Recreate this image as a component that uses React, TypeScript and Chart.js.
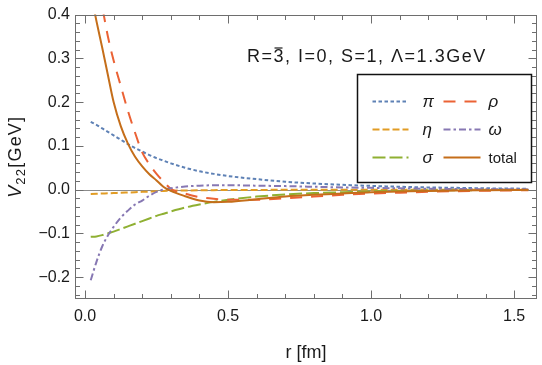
import { useEffect, useRef } from "react";
import { Chart, registerables } from "chart.js";

Chart.register(...registerables);

// Radial distance r [fm]
const radius = [0.02, 0.04, 0.06, 0.08, 0.1, 0.125, 0.15, 0.175, 0.2, 0.225, 0.25, 0.275, 0.3, 0.35, 0.4, 0.45, 0.5, 0.6, 0.7, 0.8, 0.9, 1.0, 1.1, 1.2, 1.3, 1.4, 1.55];

// Potential contributions V22 [GeV]
const piExchange = [0.155, 0.148, 0.14, 0.132, 0.124, 0.114, 0.104, 0.095, 0.087, 0.079, 0.072, 0.066, 0.06, 0.05, 0.042, 0.036, 0.031, 0.024, 0.018, 0.014, 0.011, 0.0085, 0.0065, 0.005, 0.004, 0.003, 0.002];
const etaExchange = [-0.01, -0.0095, -0.009, -0.0085, -0.008, -0.007, -0.0065, -0.006, -0.005, -0.0045, -0.004, -0.003, -0.0025, -0.002, -0.0015, -0.0012, -0.001, -0.0007, -0.0005, -0.0004, -0.0003, -0.0002, -0.0002, -0.0001, -0.0001, -0.0001, 0];
const sigmaExchange = [-0.108, -0.107, -0.104, -0.1, -0.096, -0.09, -0.084, -0.078, -0.072, -0.066, -0.06, -0.055, -0.05, -0.041, -0.034, -0.028, -0.023, -0.016, -0.011, -0.008, -0.006, -0.004, -0.003, -0.002, -0.0015, -0.001, -0.0006];
const rhoExchange = [0.6, 0.5, 0.42, 0.35, 0.295, 0.237, 0.18, 0.13, 0.085, 0.058, 0.036, 0.018, 0.002, -0.009, -0.017, -0.021, -0.023, -0.023, -0.02, -0.016, -0.012, -0.009, -0.007, -0.005, -0.0035, -0.0025, -0.0015];
const omegaExchange = [-0.207, -0.165, -0.13, -0.105, -0.085, -0.064, -0.048, -0.034, -0.025, -0.014, -0.005, 0.0, 0.003, 0.007, 0.009, 0.01, 0.01, 0.009, 0.008, 0.0065, 0.005, 0.004, 0.003, 0.002, 0.0015, 0.001, 0.0005];
const totalPotential = [0.45, 0.385, 0.325, 0.262, 0.2, 0.145, 0.105, 0.075, 0.053, 0.035, 0.021, 0.006, -0.003, -0.015, -0.025, -0.029, -0.028, -0.022, -0.016, -0.012, -0.009, -0.006, -0.0045, -0.003, -0.002, -0.0015, -0.001];

// Axis ticks
const xTickValues = [0, 0.5, 1.0, 1.5];
const yTickValues = [-0.2, -0.1, 0, 0.1, 0.2, 0.3, 0.4];

// Plot label; the 3 carries an overbar (drawn separately)
const labelHead = "R=";
const labelBarred = "3";
const labelTail = ", I=0, S=1, \u039B=1.3GeV";

const FONT = "'Liberation Sans', Arial, sans-serif";

type Series = { label: string; italic: boolean; values: number[]; color: string; dash: number[]; order: number };

const series: Series[] = [
  { label: "\u03C0", italic: true, values: piExchange, color: "#5E81B5", dash: [3.5, 2.5], order: 5 },
  { label: "\u03B7", italic: true, values: etaExchange, color: "#E19C24", dash: [7, 3], order: 4 },
  { label: "\u03C3", italic: true, values: sigmaExchange, color: "#8FB032", dash: [13, 4], order: 3 },
  { label: "\u03C1", italic: true, values: rhoExchange, color: "#EB6235", dash: [12, 9], order: 2 },
  { label: "\u03C9", italic: true, values: omegaExchange, color: "#8778B3", dash: [7, 3, 2.5, 3], order: 1 },
  { label: "total", italic: false, values: totalPotential, color: "#C56E1A", dash: [], order: 0 },
];

const fmtTick = (v: number) => (v < 0 ? "\u2212" + Math.abs(v).toFixed(1) : v.toFixed(1));

const decorPlugin = {
  id: "decor",
  beforeDatasetsDraw(chart: any) {
    const { ctx, chartArea: a, scales } = chart;
    const y0 = Math.round(scales.y.getPixelForValue(0)) + 0.5;
    ctx.save();
    ctx.strokeStyle = "#8c8c8c";
    ctx.lineWidth = 1;
    ctx.beginPath();
    ctx.moveTo(a.left, y0);
    ctx.lineTo(a.right, y0);
    ctx.stroke();
    ctx.restore();
  },
  afterDatasetsDraw(chart: any) {
    const { ctx, chartArea: a, scales } = chart;
    const xs = scales.x;
    const ys = scales.y;
    ctx.save();

    // frame
    ctx.strokeStyle = "#6e6e6e";
    ctx.lineWidth = 1;
    const L = Math.round(a.left) + 0.5;
    const R = Math.round(a.right) - 0.5;
    const T = Math.round(a.top) + 0.5;
    const B = Math.round(a.bottom) - 0.5;
    ctx.strokeRect(L, T, R - L, B - T);

    // inward ticks on all four sides
    const major = 8;
    const minor = 4.5;
    ctx.beginPath();
    for (let i = 0; i <= 15; i++) {
      const v = i / 10;
      const px = Math.round(xs.getPixelForValue(v)) + 0.5;
      const len = i % 5 === 0 ? major : minor;
      ctx.moveTo(px, B);
      ctx.lineTo(px, B - len);
      ctx.moveTo(px, T);
      ctx.lineTo(px, T + len);
    }
    for (let i = -12; i <= 20; i++) {
      const v = i / 50;
      const py = Math.round(ys.getPixelForValue(v)) + 0.5;
      const len = i % 5 === 0 ? major : minor;
      ctx.moveTo(L, py);
      ctx.lineTo(L + len, py);
      ctx.moveTo(R, py);
      ctx.lineTo(R - len, py);
    }
    ctx.stroke();

    // axis titles
    ctx.fillStyle = "#1a1a1a";
    ctx.textBaseline = "alphabetic";
    ctx.font = `18px ${FONT}`;
    ctx.textAlign = "center";
    ctx.fillText("r [fm]", (a.left + a.right) / 2, 358);

    ctx.save();
    ctx.translate(21, (a.top + a.bottom) / 2);
    ctx.rotate(-Math.PI / 2);
    ctx.textAlign = "left";
    (ctx as any).letterSpacing = "1.2px";
    const partV = "V";
    const partSub = "22";
    const partUnit = "[GeV]";
    ctx.font = `italic 18px ${FONT}`;
    const wV = ctx.measureText(partV).width;
    ctx.font = `13px ${FONT}`;
    const wSub = ctx.measureText(partSub).width;
    ctx.font = `18px ${FONT}`;
    const wUnit = ctx.measureText(partUnit).width;
    let x = -(wV + wSub + wUnit) / 2;
    ctx.font = `italic 18px ${FONT}`;
    ctx.fillText(partV, x, 0);
    x += wV;
    ctx.font = `13px ${FONT}`;
    ctx.fillText(partSub, x, 4);
    x += wSub;
    ctx.font = `18px ${FONT}`;
    ctx.fillText(partUnit, x, 0);
    (ctx as any).letterSpacing = "0px";
    ctx.restore();

    // annotation with barred 3
    ctx.font = `18px ${FONT}`;
    ctx.textAlign = "left";
    (ctx as any).letterSpacing = "1.5px";
    const tx = 247;
    const tb = 62;
    const wHead = ctx.measureText(labelHead).width;
    const wBar = ctx.measureText(labelBarred).width;
    ctx.fillText(labelHead + labelBarred + labelTail, tx, tb);
    (ctx as any).letterSpacing = "0px";
    ctx.strokeStyle = "#1a1a1a";
    ctx.lineWidth = 1.2;
    ctx.beginPath();
    ctx.moveTo(tx + wHead + 1, tb - 14);
    ctx.lineTo(tx + wHead + wBar - 2.5, tb - 14);
    ctx.stroke();

    // legend
    const bx = Math.round(a.right) - 180 + 0.5;
    const by = Math.round(a.top) + 59 + 0.5;
    const bw = 174;
    const bh = 108;
    ctx.fillStyle = "#ffffff";
    ctx.fillRect(bx, by, bw, bh);
    ctx.strokeStyle = "#111111";
    ctx.lineWidth = 1.5;
    ctx.strokeRect(bx, by, bw, bh);

    series.forEach((s, i) => {
      const col = Math.floor(i / 3);
      const row = i % 3;
      const ry = by + 27 + row * 28;
      const lx0 = bx + (col === 0 ? 15 : 86);
      const lx1 = bx + (col === 0 ? 51 : 123);
      ctx.strokeStyle = s.color;
      ctx.lineWidth = 2;
      ctx.setLineDash(s.dash);
      ctx.beginPath();
      ctx.moveTo(lx0, ry);
      ctx.lineTo(lx1, ry);
      ctx.stroke();
      ctx.setLineDash([]);
      ctx.fillStyle = "#1a1a1a";
      ctx.textBaseline = "middle";
      ctx.font = s.italic ? `italic 17px ${FONT}` : `15px ${FONT}`;
      ctx.fillText(s.label, bx + (col === 0 ? 65 : 131), ry + 1);
    });

    ctx.restore();
  },
};

export default function App() {
  const canvasRef = useRef<HTMLCanvasElement | null>(null);

  useEffect(() => {
    document.body.style.margin = "0";
    const canvas = canvasRef.current;
    if (!canvas) return;

    const chart = new Chart(canvas, {
      type: "line",
      data: {
        datasets: series.map((s) => ({
          label: s.label,
          data: radius.map((r, i) => ({ x: r, y: s.values[i] })),
          borderColor: s.color,
          backgroundColor: s.color,
          borderWidth: 2,
          borderDash: s.dash,
          pointRadius: 0,
          fill: false,
          cubicInterpolationMode: "monotone" as const,
          order: s.order,
        })),
      },
      options: {
        responsive: false,
        animation: false,
        devicePixelRatio: 1,
        layout: { padding: { top: 13, right: 5, left: 0, bottom: 0 } },
        plugins: {
          legend: { display: false },
          tooltip: { enabled: false },
        },
        scales: {
          x: {
            type: "linear",
            min: -0.035,
            max: 1.58,
            grid: { display: false, drawTicks: false },
            border: { display: false },
            afterBuildTicks: (scale: any) => {
              scale.ticks = xTickValues.map((v) => ({ value: v }));
            },
            afterFit: (scale: any) => {
              scale.height = 66;
            },
            ticks: {
              autoSkip: false,
              maxRotation: 0,
              padding: 8,
              color: "#1a1a1a",
              font: { family: FONT, size: 16 },
              callback: (v: any) => fmtTick(Number(v)),
            },
          },
          y: {
            type: "linear",
            min: -0.25,
            max: 0.4,
            grid: { display: false, drawTicks: false },
            border: { display: false },
            afterBuildTicks: (scale: any) => {
              scale.ticks = yTickValues.map((v) => ({ value: v }));
            },
            afterFit: (scale: any) => {
              scale.width = 75;
            },
            ticks: {
              autoSkip: false,
              padding: 5,
              color: "#1a1a1a",
              font: { family: FONT, size: 16 },
              callback: (v: any) => fmtTick(Number(v)),
            },
          },
        },
      },
      plugins: [decorPlugin],
    });

    return () => chart.destroy();
  }, []);

  return (
    <div style={{ width: 542, height: 365, background: "#fff" }}>
      <canvas ref={canvasRef} width={542} height={365} style={{ display: "block" }} />
    </div>
  );
}
